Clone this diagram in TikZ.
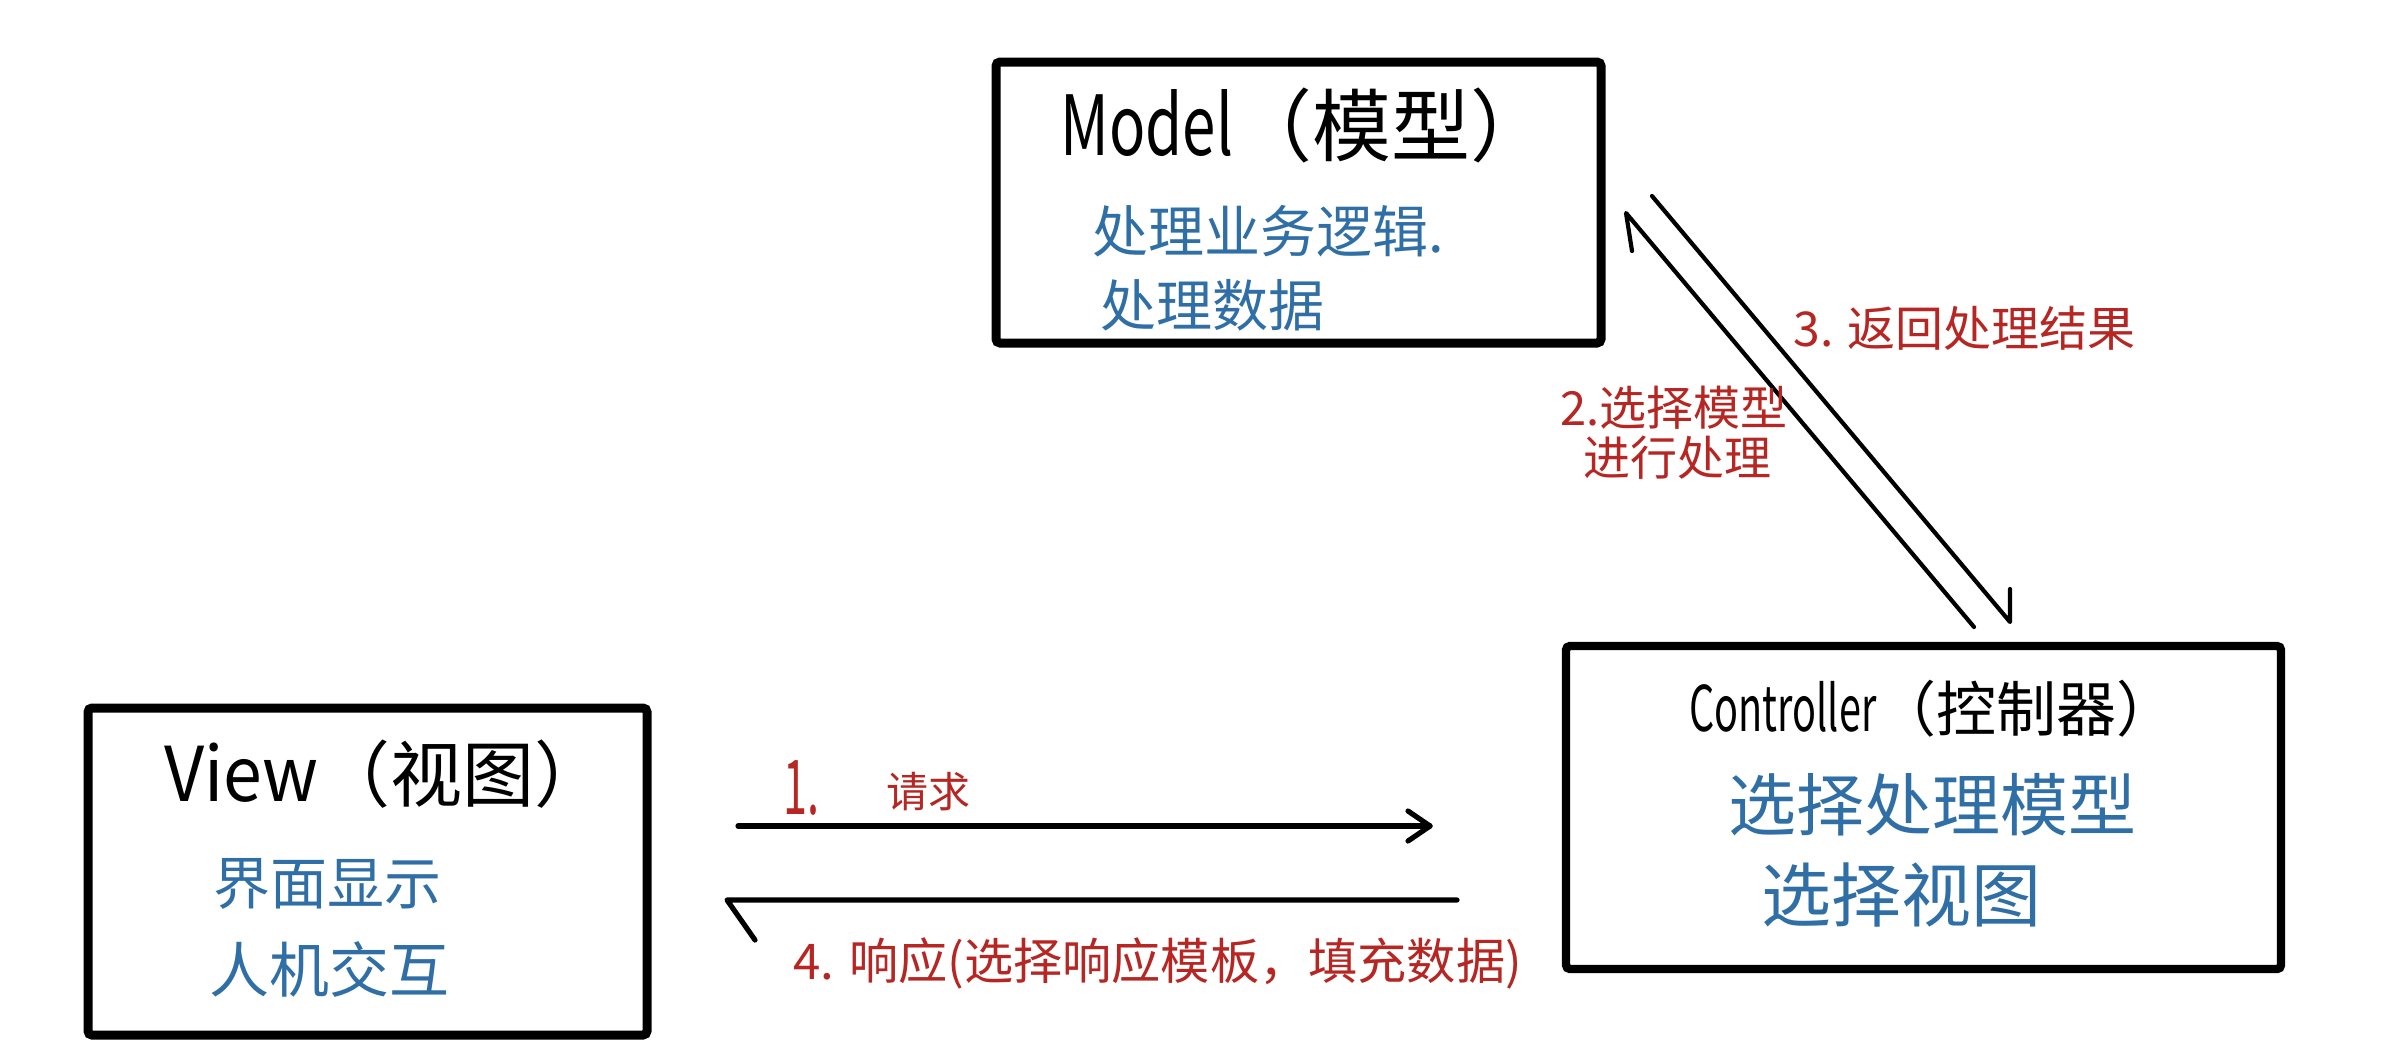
\documentclass[tikz,border=0pt]{standalone}
\usepackage{fontspec}
\usepackage{graphicx}
\setmainfont{Noto Sans CJK SC}
\usetikzlibrary{arrows.meta}
\definecolor{inkblue}{RGB}{47,111,166}
\definecolor{inkred}{RGB}{182,38,34}
\tikzset{
  box/.style={draw=black, line width=4.5pt, rounded corners=2pt, inner sep=0pt},
  titletext/.style={inner sep=0pt, text=black, anchor=west},
  bluetext/.style={inner sep=0pt, text=inkblue, anchor=west},
  redtext/.style={inner sep=0pt, text=inkred, anchor=west},
  flow/.style={draw=black, line width=2.6pt, line cap=round, line join=round},
  diag/.style={draw=black, line width=2.1pt, line cap=round, line join=round},
}
\begin{document}
\begin{tikzpicture}[x=0.5pt,y=-0.5pt]
\useasboundingbox (0,0) rectangle (2385,1045);
\fill[white] (0,0) rectangle (2385,1045);

% boxes
\node[box, minimum width=302.5pt, minimum height=140.5pt] (model) at (1298.5,202.5) {};
\node[box, line width=4.2pt, minimum width=357.5pt, minimum height=161.5pt] (ctrl) at (1923.5,807.5) {};
\node[box, minimum width=279.5pt, minimum height=163.5pt] (view) at (367.5,871.5) {};

% titles
\node[titletext] (modelt) at (1060,125) {\fontsize{39.5pt}{44pt}\selectfont\scalebox{0.76}[1.05]{Model}（模型）};
\node[titletext] (ctrlt) at (1689,709) {\fontsize{30pt}{34pt}\selectfont\scalebox{0.66}[1.05]{Controller}（控制器）};
\node[titletext] (viewt) at (164,774) {\fontsize{36pt}{40pt}\selectfont\scalebox{0.97}[1.05]{View}（视图）};

% blue contents
\node[bluetext] (m1) at (1092,231) {\fontsize{28pt}{32pt}\selectfont 处理业务逻辑.};
\node[bluetext] (m2) at (1100,305) {\fontsize{28pt}{32pt}\selectfont 处理数据};
\node[bluetext] (c1) at (1728,805) {\fontsize{34pt}{38pt}\selectfont 选择处理模型};
\node[bluetext] (c2) at (1761,895) {\fontsize{35pt}{38pt}\selectfont 选择视图};
\node[bluetext] (v1) at (213,884) {\fontsize{28.5pt}{32pt}\selectfont 界面显示};
\node[bluetext] (v2) at (209,969) {\fontsize{30pt}{34pt}\selectfont 人机交互};

% arrow endpoints
\coordinate (a1s) at (738,826);
\coordinate (a1e) at (1430,826);
\coordinate (a4s) at (1457,900);
\coordinate (a4e) at (727,900);
\coordinate (a2s) at (1974,627);
\coordinate (a2e) at (1626,213);
\coordinate (a3s) at (1652,196);
\coordinate (a3e) at (2010,622);

% 1. request
\draw[flow] (a1s) -- (a1e);
\draw[flow] (a1e) ++(-22,-15) -- (a1e) -- ++(-22,15);
% 4. response
\draw[flow] (a4s) -- (a4e) -- ++(28,40);
% 2. select model
\draw[diag] (a2s) -- (a2e) -- ++(6,38);
% 3. return result
\draw[diag] (a3s) -- (a3e) -- ++(0,-33);

% red labels
\node[redtext] (l1a) at (783,788) {\fontsize{36pt}{40pt}\selectfont\scalebox{0.6}[1.05]{1.}};
\node[redtext] (l1b) at (886,792) {\fontsize{21pt}{24pt}\selectfont 请求};
\node[redtext] (l4) at (793,963) {\fontsize{24.6pt}{28pt}\selectfont 4. 响应(选择响应模板，填充数据)};
\node[redtext] (l3) at (1793,328) {\fontsize{24pt}{28pt}\selectfont 3. 返回处理结果};
\node[redtext] (l2a) at (1560,408) {\fontsize{23.5pt}{28pt}\selectfont 2.选择模型};
\node[redtext] (l2b) at (1583,458) {\fontsize{23.5pt}{28pt}\selectfont 进行处理};
\end{tikzpicture}
\end{document}
